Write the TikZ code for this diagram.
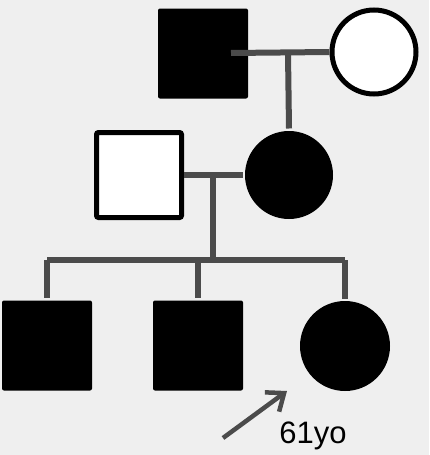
\documentclass[tikz,border=0pt]{standalone}
\usepackage{fontspec}
\setmainfont{Liberation Sans}
\usetikzlibrary{arrows.meta,positioning}

\definecolor{bggray}{HTML}{EFEFEF}
\definecolor{linegray}{HTML}{4B4B4B}

\begin{document}
\begin{tikzpicture}[
    x=1pt, y=-1pt,
    male/.style={rectangle, draw=black, fill=#1, line width=5pt, rounded corners=2pt, minimum size=85pt, inner sep=0pt},
    female/.style={circle, draw=black, fill=#1, line width=5pt, minimum size=84pt, inner sep=0pt},
    affected/.style={draw=none, minimum size=90pt},
    link/.style={draw=linegray, line width=6pt},
    pointer/.style={-{Straight Barb[length=15pt,width=24pt]}, linegray, line width=4.5pt},
]

% Background
\fill[bggray] (0,0) rectangle (429,455);
\useasboundingbox (0,0) rectangle (429,455);

% Generation I
\node[male=black, affected] (gf) at (203,53.5) {};
\node[female=white] (gm) at (374,52) {};

% Generation II
\node[male=white] (fa) at (139,175) {};
\node[female=black, affected, minimum size=88pt] (mo) at (289,175) {};

% Generation III
\node[male=black, affected] (s1) at (47,345.5) {};
\node[male=black, affected] (s2) at (198,345.5) {};
\node[female=black, affected] (s3) at (345,346) {};

% Couple and descent lines
\coordinate (m1) at (288,53);
\coordinate (m2) at (213,174);
\coordinate (sib) at (213,260);
\draw[link] (231,53) -- (gm.west);
\draw[link] (m1) -- (mo.north);
\draw[link] (fa.east) -- (mo.west);
\draw[link] (m2) -- (sib);
\draw[link] (s1.north |- sib) -- (s3.north |- sib);
\draw[link] (s1.north |- sib) -- (s1.north);
\draw[link] (s2.north |- sib) -- (s2.north);
\draw[link] (s3.north |- sib) -- (s3.north);

% Proband
\coordinate (tail) at (223,438);
\coordinate (tip) at (287,391);
\draw[pointer] (tail) -- (tip);
\node[font=\fontsize{31}{36}\selectfont] (age) at (313,436) {61yo};

\end{tikzpicture}
\end{document}
